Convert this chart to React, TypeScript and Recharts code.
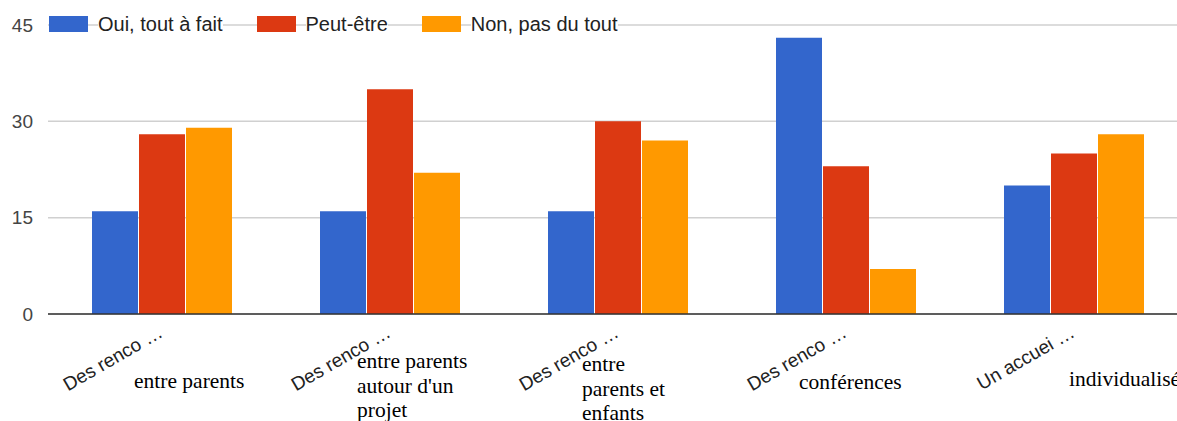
import { BarChart, Bar, XAxis, YAxis, CartesianGrid, Legend } from "recharts";

const categories = [
  "Des rencontres entre parents",
  "Des rencontres entre parents autour d'un projet",
  "Des rencontres entre parents et enfants",
  "Des rencontres conférences",
  "Un accueil individualisé",
];
const tickLabels = ["Des renco …", "Des renco …", "Des renco …", "Des renco …", "Un accuei …"];
const overflowLines = [
  ["entre parents"],
  ["entre parents", "autour d'un", "projet"],
  ["entre", "parents et", "enfants"],
  ["conférences"],
  ["individualisé"],
];
const oui = [16, 16, 16, 43, 20];
const peutEtre = [28, 35, 30, 23, 25];
const nonPas = [29, 22, 27, 7, 28];
const yTicks = [0, 15, 30, 45];

const seriesNames = ["Oui, tout à fait", "Peut-être", "Non, pas du tout"];
const colors = ["#3366cc", "#dc3912", "#ff9900"];

// where the stray serif text sits, relative to the tick centre
const overflowPos = [
  { dx: -28, dy: 74 },
  { dx: -33, dy: 54 },
  { dx: -36, dy: 57 },
  { dx: -47, dy: 75 },
  { dx: -5, dy: 72 },
];

const data = categories.map((name, i) => ({
  name,
  oui: oui[i],
  peut: peutEtre[i],
  non: nonPas[i],
}));

const sans = "'Liberation Sans', Arial, sans-serif";

function CategoryTick(props: any) {
  const { x, y, index } = props;
  const pos = overflowPos[index];
  return (
    <g>
      <text
        x={x + 2}
        y={y + 22}
        textAnchor="end"
        transform={`rotate(-30 ${x + 2} ${y + 22})`}
        fill="#222"
        fontSize={19}
        fontFamily={sans}
      >
        {tickLabels[index]}
      </text>
      <text x={x + pos.dx} y={y + pos.dy} fill="#000" fontSize={21.5} fontFamily="'Liberation Serif', 'Times New Roman', serif">
        {overflowLines[index].map((line, k) => (
          <tspan key={k} x={x + pos.dx} dy={k === 0 ? 0 : 24.5}>
            {line}
          </tspan>
        ))}
      </text>
    </g>
  );
}

function renderLegend() {
  return (
    <div style={{ display: "flex", alignItems: "center", fontFamily: sans, fontSize: 20, lineHeight: "20px", color: "#222" }}>
      {seriesNames.map((s, i) => (
        <div key={s} style={{ display: "flex", alignItems: "center", marginRight: 34 }}>
          <div style={{ width: 39, height: 16, background: colors[i], marginRight: 10 }} />
          <span style={{ background: "#fff", whiteSpace: "nowrap" }}>{s}</span>
        </div>
      ))}
    </div>
  );
}

export default function App() {
  return (
    <div style={{ position: "fixed", left: 0, top: 0, width: 1177, height: 421, overflow: "hidden", background: "#fff" }}>
      <BarChart
        width={1190}
        height={421}
        data={data}
        margin={{ top: 25, right: 2, bottom: 0, left: 0 }}
        barCategoryGap={44}
        barGap={1}
      >
        <CartesianGrid vertical={false} stroke="#d0d0d0" strokeWidth={1.5} />
        <XAxis
          dataKey="name"
          height={107}
          interval={0}
          tickLine={false}
          tickSize={0}
          tickMargin={0}
          axisLine={{ stroke: "#333", strokeWidth: 1.5 }}
          tick={<CategoryTick />}
        />
        <YAxis
          width={48}
          domain={[0, 45]}
          ticks={yTicks}
          axisLine={false}
          tickLine={false}
          tickSize={0}
          tickMargin={15}
          tick={{ fill: "#444", fontSize: 19, fontFamily: sans }}
        />
        <Legend
          layout="vertical"
          align="center"
          verticalAlign="middle"
          wrapperStyle={{ position: "absolute", top: 14, left: 49, width: "auto" }}
          content={renderLegend}
        />
        <Bar dataKey="oui" name={seriesNames[0]} fill={colors[0]} isAnimationActive={false} />
        <Bar dataKey="peut" name={seriesNames[1]} fill={colors[1]} isAnimationActive={false} />
        <Bar dataKey="non" name={seriesNames[2]} fill={colors[2]} isAnimationActive={false} />
      </BarChart>
    </div>
  );
}
